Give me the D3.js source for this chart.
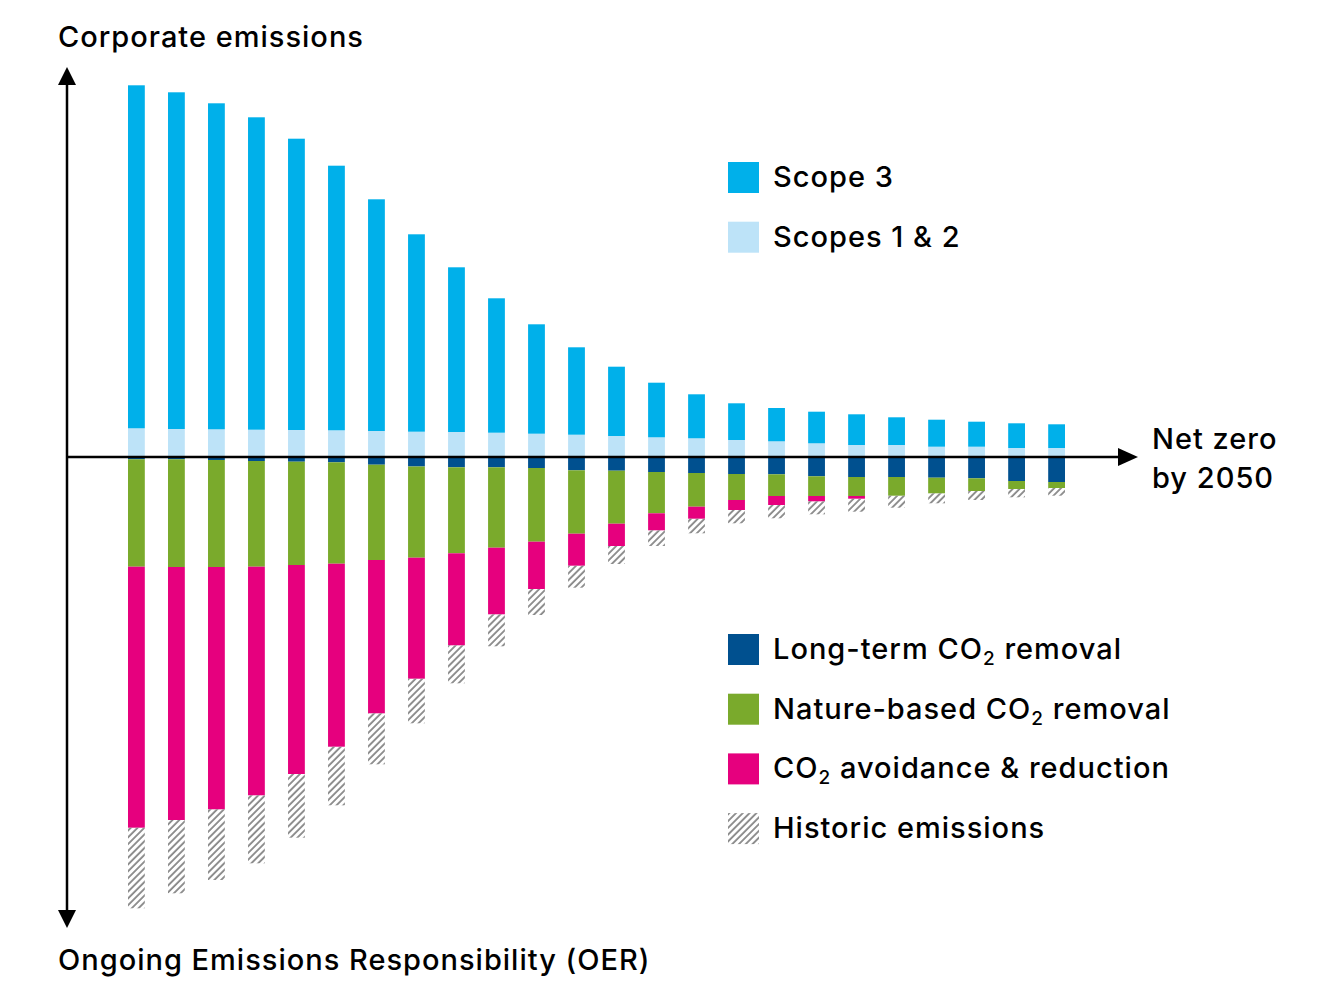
<!DOCTYPE html>
<html>
<head>
<meta charset="utf-8">
<script src="https://cdn.jsdelivr.net/npm/d3@7"></script>
<style>
  html, body { margin: 0; padding: 0; background: #fff; }
  text { font-family: Inter, "Noto Sans", sans-serif; font-weight: 500; fill: #000; letter-spacing: 1px; }
</style>
</head>
<body>
<script>
// chart values (relative emission units) =================================
var years = d3.range(2027, 2051).map(String)

var scope12   = [28.7, 28, 27.7, 27.3, 27, 26.7, 26, 25.3, 25, 24.3, 23.3, 22.3, 21, 19.7, 18.7, 17, 15.7, 13.7, 12, 12, 10.3, 10.3, 9, 9]
var scope3    = [343, 336.7, 326, 312.4, 291.3, 264.6, 231.7, 197.4, 164.7, 134.4, 109.4, 87.4, 69.3, 54.6, 44, 36.7, 33.3, 31.6, 30.7, 27.7, 27, 25, 24.7, 23.7]
var longTerm  = [2.3, 2.3, 3, 4, 4.7, 5.3, 7.7, 9.5, 10.3, 10.3, 11, 13.3, 13.7, 15, 16, 17, 17.3, 19.3, 20, 20, 20.7, 21.3, 24, 25]
var nature    = [107.4, 107.7, 107, 105.7, 103.3, 101.4, 95.3, 91.2, 86, 80.4, 73.7, 63.4, 53, 41.3, 33.7, 26, 21.7, 19.7, 19, 18.7, 15.6, 12.7, 8, 6]
var avoidance = [261, 253, 242.3, 228.6, 209, 183, 153.3, 121, 92, 66.6, 47.3, 32, 22.3, 17, 12, 10, 9, 5.3, 2.7, 0, 0, 0, 0, 0]
var historic  = [80.6, 73.3, 70.7, 68, 63.7, 58.6, 51, 44.6, 38, 32, 26, 22, 18, 15.7, 14.6, 13.3, 13.3, 13, 13, 12, 10, 9, 8.3, 7.7]

var seriesKeys   = ["s12", "s3", "lt", "nb", "av", "hist"]
var seriesLabels = {
    s3: "Scope 3", s12: "Scopes 1 & 2",
    lt: ["Long-term CO", "2", " removal"],
    nb: ["Nature-based CO", "2", " removal"],
    av: ["CO", "2", " avoidance & reduction"],
    hist: "Historic emissions"
}
var colors = { s3: "#00b0ea", s12: "#bde3f8", lt: "#00508f", nb: "#7aaa2c", av: "#e6007e", hist: "url(#hatch)" }

// build the table for d3.stack, removals go below the line
var rows = years.map(function(y, i) {
    return { year: y, s12: scope12[i], s3: scope3[i], lt: -longTerm[i], nb: -nature[i], av: -avoidance[i], hist: -historic[i] }
})

var W = 1333, H = 1000

var svg = d3.select("body").append("svg")
    .attr("width", W).attr("height", H)

// hatch pattern for historic emissions
var defs = svg.append("defs")
defs.append("pattern")
    .attr("id", "hatch")
    .attr("patternUnits", "userSpaceOnUse")
    .attr("width", 4.8).attr("height", 4.8)
    .attr("patternTransform", "rotate(45)")
  .append("line")
    .attr("x1", 1).attr("y1", 0).attr("x2", 1).attr("y2", 4.8)
    .style("stroke", "#7f7f7f").style("stroke-width", 1.7)

var x = d3.scaleBand().domain(years).range([128, 1065]).paddingInner(0.58).paddingOuter(0)
var y = d3.scaleLinear().domain([-470, 390]).range([927, 67])

var stack = d3.stack().keys(seriesKeys).offset(d3.stackOffsetDiverging)
var layers = stack(rows)

svg.append("g").selectAll("g")
    .data(layers)
    .enter().append("g")
    .style("fill", function(d) { return colors[d.key] })
    .selectAll("rect")
    .data(function(d) { return d })
    .enter().append("rect")
    .attr("x", function(d) { return x(d.data.year) })
    .attr("width", x.bandwidth())
    .attr("y", function(d) { return y(Math.max(d[0], d[1])) })
    .attr("height", function(d) { return Math.abs(y(d[0]) - y(d[1])) })

// axes with arrowheads
var axisX = 67, zeroY = y(0)
var axes = svg.append("g")
axes.append("line")
    .attr("x1", axisX).attr("x2", axisX).attr("y1", 80).attr("y2", 914)
    .style("stroke", "#000").style("stroke-width", 2.5)
axes.append("line")
    .attr("x1", axisX).attr("x2", 1122).attr("y1", zeroY).attr("y2", zeroY)
    .style("stroke", "#000").style("stroke-width", 2.5)
axes.append("path")
    .attr("d", "M" + axisX + ",67 L" + (axisX - 9) + ",85 L" + (axisX + 9) + ",85 Z")
axes.append("path")
    .attr("d", "M" + axisX + ",928 L" + (axisX - 9) + ",910 L" + (axisX + 9) + ",910 Z")
axes.append("path")
    .attr("d", "M1138," + zeroY + " L1118," + (zeroY - 9) + " L1118," + (zeroY + 9) + " Z")

// axis titles
svg.append("text").attr("x", 58).attr("y", 47).style("font-size", "29px").text("Corporate emissions")
svg.append("text").attr("x", 58).attr("y", 970).style("font-size", "29px").text("Ongoing Emissions Responsibility (OER)")
svg.append("text").attr("x", 1152).attr("y", 449).style("font-size", "29px").text("Net zero")
svg.append("text").attr("x", 1152).attr("y", 488).style("font-size", "29px").text("by 2050")

// legends
function legend(keys, top) {
    var g = svg.append("g")
    keys.forEach(function(k, i) {
        var yy = top + i * 59.7
        g.append("rect")
            .attr("x", 728).attr("y", yy).attr("width", 31).attr("height", 31)
            .style("fill", colors[k])
        var t = g.append("text")
            .attr("x", 773).attr("y", yy + 25)
            .style("font-size", "29px")
        var lab = seriesLabels[k]
        if (typeof lab === "string") {
            t.text(lab)
        } else {
            t.append("tspan").text(lab[0])
            t.append("tspan").attr("dy", 6).style("font-size", "19px").text(lab[1])
            t.append("tspan").attr("dy", -6).text(lab[2])
        }
    })
}
legend(["s3", "s12"], 162)
legend(["lt", "nb", "av", "hist"], 634)
</script>
</body>
</html>
